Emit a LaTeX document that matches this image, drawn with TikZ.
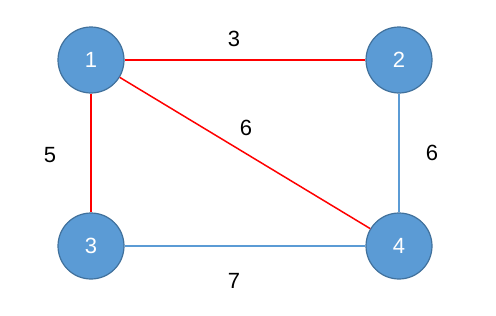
\documentclass[tikz,border=0pt]{standalone}
\usepackage{fontspec}
\setmainfont{Liberation Sans}
\usepackage{tikz}
\usetikzlibrary{positioning}
\definecolor{nodefill}{HTML}{5B9BD5}
\definecolor{nodeline}{HTML}{41719C}
\definecolor{edgeblue}{HTML}{5B9BD5}
\definecolor{edgered}{HTML}{FF0000}
\tikzset{
  vert/.style={circle, draw=nodeline, fill=nodefill, line width=1.2pt,
               minimum size=66pt, inner sep=0pt, text=white,
               font=\fontsize{22}{24}\selectfont},
  redge/.style={draw=edgered, line width=1.5pt},
  bedge/.style={draw=edgeblue, line width=1.5pt},
  wlbl/.style={font=\fontsize{22}{24}\selectfont, text=black}
}
\begin{document}
\begin{tikzpicture}[x=1pt, y=-1pt]
  \useasboundingbox (0,0) rectangle (496,316);
  \node[vert] (v1) at (91,60) {1};
  \node[vert] (v2) at (399,60) {2};
  \node[vert] (v3) at (91,246) {3};
  \node[vert] (v4) at (399,246) {4};
  \draw[redge] (v1)--(v2); \draw[redge] (v1)--(v3); \draw[redge] (v1)--(v4);
  \draw[bedge] (v2)--(v4); \draw[bedge] (v3)--(v4);
  \node[wlbl] (w12) at (234,39) {3};
  \node[wlbl] (w13) at (50,155) {5};
  \node[wlbl] (w14) at (246,128) {6};
  \node[wlbl] (w24) at (432,153) {6};
  \node[wlbl] (w34) at (234,281) {7};
\end{tikzpicture}
\end{document}
